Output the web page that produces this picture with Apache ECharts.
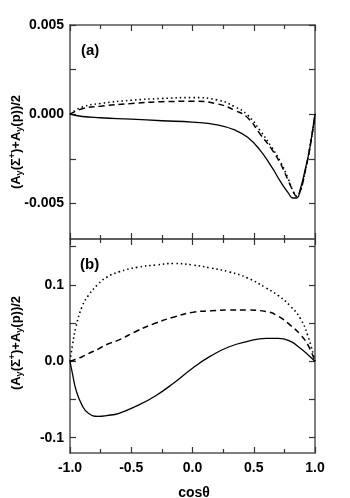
<!DOCTYPE html>
<html>
<head>
<meta charset="utf-8">
<script src="https://cdn.jsdelivr.net/npm/echarts@6/dist/echarts.min.js"></script>
<style>
  html, body { margin: 0; padding: 0; background: #fff; }
  #main { width: 350px; height: 498px; }
</style>
</head>
<body>
<div id="main"></div>
<script>
// 上图 (a) 的数据
var xA = [-1, -0.9, -0.75, -0.5, -0.25, 0, 0.2, 0.35, 0.45, 0.55, 0.65, 0.72, 0.78, 0.82, 0.85, 0.88, 0.92, 0.96, 1.0];
var solidA = [0, -0.00013, -0.0002, -0.00028, -0.00037, -0.00045, -0.0006, -0.0009, -0.0013, -0.002, -0.003, -0.0038, -0.0044, -0.0047, -0.0047, -0.0042, -0.0031, -0.0018, 0];
var dashA = [0, 0.0003, 0.00045, 0.0006, 0.0007, 0.00072, 0.00058, 0.0002, -0.0002, -0.0011, -0.002, -0.0028, -0.0037, -0.0043, -0.0046, -0.0043, -0.0032, -0.0018, 0];
var dotA = [0, 0.0004, 0.0006, 0.00078, 0.00088, 0.00093, 0.0008, 0.0004, -0.00005, -0.0009, -0.0019, -0.0027, -0.0036, -0.0043, -0.0046, -0.0043, -0.0032, -0.0018, 0];

// 下图 (b) 的数据
var xB = [-1, -0.98, -0.95, -0.9, -0.85, -0.77, -0.7, -0.6, -0.45, -0.3, -0.15, 0, 0.15, 0.3, 0.45, 0.6, 0.7, 0.8, 0.88, 0.94, 1.0];
var solidB = [0, -0.016, -0.038, -0.058, -0.068, -0.072, -0.071, -0.068, -0.058, -0.045, -0.028, -0.009, 0.007, 0.019, 0.026, 0.03, 0.03, 0.026, 0.017, 0.009, 0];
var dashB = [0, 0.001, 0.003, 0.006, 0.01, 0.016, 0.022, 0.028, 0.04, 0.05, 0.058, 0.064, 0.066, 0.067, 0.067, 0.065, 0.059, 0.047, 0.035, 0.022, 0];
var dotB = [0, 0.021, 0.046, 0.072, 0.086, 0.101, 0.11, 0.117, 0.123, 0.126, 0.128, 0.126, 0.122, 0.117, 0.109, 0.096, 0.086, 0.072, 0.056, 0.034, 0];

// 刻度
var yTicksA = [-0.005, -0.0025, 0, 0.0025, 0.005];
var yLabelsA = [-0.005, 0, 0.005];
var yTicksB = [-0.1, -0.05, 0, 0.05, 0.1, 0.15];
var yLabelsB = [-0.1, 0, 0.1];

function pairs(xs, ys) {
    return xs.map(function (x, i) { return [x, ys[i]]; });
}

var FONT = '"Liberation Sans", Arial, sans-serif';
var AXIS_COLOR = '#555';

function xAxis(gridIndex, position, showLabel) {
    return {
        type: 'value', gridIndex: gridIndex, position: position,
        min: -1, max: 1, interval: 0.5,
        axisLine: { onZero: false, lineStyle: { color: AXIS_COLOR, width: 1.5 } },
        axisTick: { inside: true, length: 6, lineStyle: { color: '#333', width: 1.2 } },
        minorTick: { show: true, splitNumber: 2, length: 4, lineStyle: { color: '#333', width: 1.2 } },
        splitLine: { show: false },
        axisLabel: {
            show: showLabel, margin: 8, color: '#000', fontFamily: FONT,
            fontWeight: 'bold', fontSize: 14,
            formatter: function (v) { return v.toFixed(1); }
        }
    };
}

function yAxis(gridIndex, position, min, max, ticks, labels, digits, showLabel) {
    return {
        type: 'value', gridIndex: gridIndex, position: position,
        min: min, max: max,
        axisLine: { show: true, onZero: false, lineStyle: { color: AXIS_COLOR, width: 1.5 } },
        axisTick: { show: true, inside: true, length: 6, customValues: ticks, lineStyle: { color: '#333', width: 1.2 } },
        splitLine: { show: false },
        axisLabel: {
            show: showLabel, margin: 6, color: '#000', fontFamily: FONT,
            fontWeight: 'bold', fontSize: 14, customValues: labels,
            formatter: function (v) { return v.toFixed(digits); }
        }
    };
}

function line(name, xi, yi, data, type) {
    var ls = { color: '#000', width: 1.3, type: 'solid' };
    if (type === 'dashed') { ls.type = [6, 4]; ls.width = 1.5; }
    if (type === 'dotted') { ls.type = [1.5, 3]; ls.width = 1.6; }
    return {
        name: name, type: 'line', xAxisIndex: xi, yAxisIndex: yi,
        data: data, smooth: 0.5,
        showSymbol: false, symbol: 'none', lineStyle: ls, silent: true, animation: false
    };
}

var titleRich = {
    n: { fontFamily: FONT, fontWeight: 'bold', fontSize: 13, lineHeight: 16, fill: '#000' },
    s: { fontFamily: FONT, fontWeight: 'bold', fontSize: 9, lineHeight: 16, verticalAlign: 'bottom', padding: [6, 0, 0, 0], fill: '#000' },
    p: { fontFamily: FONT, fontWeight: 'bold', fontSize: 9, lineHeight: 16, verticalAlign: 'top', padding: [0, 0, 6, 0], fill: '#000' }
};
var titleText = '{n|(A}{s|y}{n|(Σ}{p|+}{n|)+A}{s|y}{n|(p))/2}';

function yTitle(cy) {
    return {
        type: 'text', x: 16, y: cy, rotation: Math.PI / 2,
        style: { text: titleText, rich: titleRich, align: 'center', verticalAlign: 'middle' }
    };
}

var myChart = echarts.init(document.getElementById('main'));
myChart.setOption({
    animation: false,
    backgroundColor: '#fff',
    grid: [
        { left: 70, top: 25, width: 245, height: 214 },
        { left: 70, top: 239, width: 245, height: 214 }
    ],
    xAxis: [
        xAxis(0, 'bottom', false),
        xAxis(0, 'top', false),
        xAxis(1, 'bottom', true),
        xAxis(1, 'top', false)
    ],
    yAxis: [
        yAxis(0, 'left', -0.007, 0.005, yTicksA, yLabelsA, 3, true),
        yAxis(0, 'right', -0.007, 0.005, yTicksA, yLabelsA, 3, false),
        yAxis(1, 'left', -0.12, 0.16, yTicksB, yLabelsB, 1, true),
        yAxis(1, 'right', -0.12, 0.16, yTicksB, yLabelsB, 1, false)
    ],
    graphic: [
        yTitle(142),
        yTitle(343),
        { type: 'text', x: 81, y: 51, style: { text: '(a)', font: 'bold 15px ' + FONT, fill: '#000', verticalAlign: 'middle' } },
        { type: 'text', x: 80, y: 265, style: { text: '(b)', font: 'bold 15px ' + FONT, fill: '#000', verticalAlign: 'middle' } },
        { type: 'text', x: 194, y: 493, style: { text: 'cosθ', font: 'bold 14px ' + FONT, fill: '#000', align: 'center', verticalAlign: 'middle' } }
    ],
    series: [
        line('solid a', 0, 0, pairs(xA, solidA), 'solid'),
        line('dashed a', 0, 0, pairs(xA, dashA), 'dashed'),
        line('dotted a', 0, 0, pairs(xA, dotA), 'dotted'),
        line('solid b', 2, 2, pairs(xB, solidB), 'solid'),
        line('dashed b', 2, 2, pairs(xB, dashB), 'dashed'),
        line('dotted b', 2, 2, pairs(xB, dotB), 'dotted')
    ]
});
</script>
</body>
</html>
